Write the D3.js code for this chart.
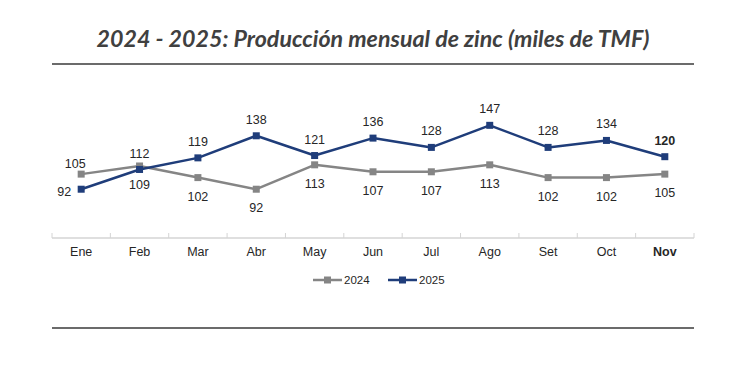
<!DOCTYPE html>
<html>
<head>
<meta charset="utf-8">
<script src="https://cdn.jsdelivr.net/npm/d3@7"></script>
<style>
  body { margin: 0; background: #fff; }
  svg { display: block; }
</style>
</head>
<body>
<svg width="743" height="367"></svg>
<script>
var months = ["Ene", "Feb", "Mar", "Abr", "May", "Jun", "Jul", "Ago", "Set", "Oct", "Nov"];
var values2024 = [105, 112, 102, 92, 113, 107, 107, 113, 102, 102, 105];
var values2025 = [92, 109, 119, 138, 121, 136, 128, 147, 128, 134, 120];
var seriesNames = ["2024", "2025"];

var svg = d3.select("svg"),
	grey = "#858585",
	navy = "#1f3d7a",
	font = "'Liberation Sans Narrow', 'Arial Narrow', 'Liberation Sans', sans-serif";

var x = d3.scaleBand().domain(months).range([52, 694]);
var y = d3.scaleLinear().domain([50, 180]).range([238, 87]);
var cx = d => x(d) + x.bandwidth() / 2;

// title + rules
svg.append("text")
	.attr("x", 373)
	.attr("y", 47)
	.attr("text-anchor", "middle")
	.attr("font-family", "Lato, 'Open Sans', sans-serif")
	.attr("font-style", "italic")
	.attr("font-weight", "bold")
	.attr("font-size", 22)
	.attr("fill", "#404040")
	.attr("textLength", 553)
	.attr("lengthAdjust", "spacingAndGlyphs")
	.text("2024 - 2025: Producción mensual de zinc (miles de TMF)");

[64, 328].forEach(function (yy) {
	svg.append("line")
		.attr("x1", 52).attr("x2", 694)
		.attr("y1", yy).attr("y2", yy)
		.attr("stroke", "#3a3a3a")
		.attr("stroke-width", 1.6);
});

// x axis
var axis = svg.append("g").attr("transform", "translate(0,238)");
axis.append("line")
	.attr("x1", 52).attr("x2", 694)
	.attr("stroke", "#d4d4d4")
	.attr("stroke-width", 1.5);
axis.selectAll(".tick")
	.data(months.concat(["end"]))
	.enter()
	.append("line")
	.attr("x1", (d, i) => 52 + i * x.step())
	.attr("x2", (d, i) => 52 + i * x.step())
	.attr("y1", 0).attr("y2", -5)
	.attr("stroke", "#d4d4d4")
	.attr("stroke-width", 1);
axis.selectAll(".lbl")
	.data(months)
	.enter()
	.append("text")
	.attr("x", d => cx(d))
	.attr("y", 18)
	.attr("text-anchor", "middle")
	.attr("font-family", font)
	.attr("font-size", 12.5)
	.attr("font-weight", d => d === "Nov" ? "bold" : "normal")
	.attr("fill", "#262626")
	.text(d => d);

// lines
var line = d3.line().x((d, i) => cx(months[i])).y(d => y(d));

function drawSeries(vals, color) {
	svg.append("path")
		.datum(vals)
		.attr("d", line)
		.attr("fill", "none")
		.attr("stroke", color)
		.attr("stroke-width", 2.5)
		.attr("stroke-linejoin", "round");
	svg.selectAll(null)
		.data(vals)
		.enter()
		.append("rect")
		.attr("x", (d, i) => cx(months[i]) - 3.5)
		.attr("y", d => y(d) - 3.5)
		.attr("width", 7)
		.attr("height", 7)
		.attr("fill", color);
}
drawSeries(values2024, grey);
drawSeries(values2025, navy);

// data labels
function labelPos(series, i) {
	// offset [dx, dy] relative to the marker
	if (series === "2025") {
		if (i === 0) return [-17, 7];
		if (i === 1) return [0, 20];
		return [0, -12];
	}
	if (i === 0) return [-6, -6];
	if (i === 1) return [0, -8];
	return [0, 23];
}
[["2024", values2024], ["2025", values2025]].forEach(function (s) {
	svg.selectAll(null)
		.data(s[1])
		.enter()
		.append("text")
		.attr("x", (d, i) => cx(months[i]) + labelPos(s[0], i)[0])
		.attr("y", (d, i) => y(d) + labelPos(s[0], i)[1])
		.attr("text-anchor", "middle")
		.attr("font-family", font)
		.attr("font-size", 12.5)
		.attr("font-weight", (d, i) => (s[0] === "2025" && i === 10) ? "bold" : "normal")
		.attr("fill", "#262626")
		.text(d => d);
});

// legend
var legend = svg.append("g").attr("transform", "translate(0,280)");
[[grey, 313], [navy, 388]].forEach(function (l, i) {
	legend.append("line")
		.attr("x1", l[1]).attr("x2", l[1] + 29)
		.attr("stroke", l[0]).attr("stroke-width", 2.5);
	legend.append("rect")
		.attr("x", l[1] + 11).attr("y", -3.5)
		.attr("width", 7).attr("height", 7)
		.attr("fill", l[0]);
	legend.append("text")
		.attr("x", l[1] + 31)
		.attr("y", 4)
		.attr("font-family", font)
		.attr("font-size", 11.5)
		.attr("fill", "#262626")
		.text(seriesNames[i]);
});
</script>
</body>
</html>
